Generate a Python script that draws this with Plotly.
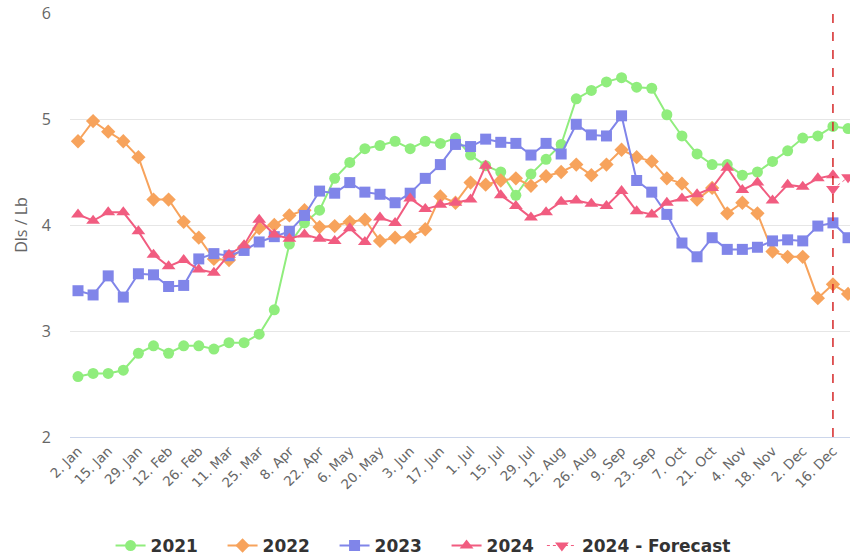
import plotly.graph_objects as go

weeks = list(range(52))
tick_pos = list(range(0, 52, 2))
tick_text = ["2. Jan", "15. Jan", "29. Jan", "12. Feb", "26. Feb", "11. Mar", "25. Mar",
             "8. Apr", "22. Apr", "6. May", "20. May", "3. Jun", "17. Jun", "1. Jul",
             "15. Jul", "29. Jul", "12. Aug", "26. Aug", "9. Sep", "23. Sep", "7. Oct",
             "21. Oct", "4. Nov", "18. Nov", "2. Dec", "16. Dec"]

y2021 = [2.57, 2.60, 2.60, 2.63, 2.79, 2.86, 2.79, 2.86, 2.86, 2.83, 2.89, 2.89, 2.97, 3.20,
         3.82, 4.02, 4.14, 4.44, 4.59, 4.72, 4.75, 4.79, 4.72, 4.79, 4.77, 4.82, 4.66, 4.56,
         4.50, 4.28, 4.48, 4.62, 4.76, 5.19, 5.27, 5.35, 5.39, 5.30, 5.29, 5.04, 4.84, 4.67,
         4.57, 4.57, 4.47, 4.50, 4.60, 4.70, 4.82, 4.84, 4.93, 4.91]
y2022 = [4.79, 4.98, 4.88, 4.79, 4.64, 4.24, 4.24, 4.03, 3.88, 3.68, 3.67, 3.79, 3.97, 4.00,
         4.09, 4.14, 3.98, 3.99, 4.03, 4.05, 3.85, 3.88, 3.89, 3.96, 4.27, 4.21, 4.40, 4.38,
         4.42, 4.44, 4.37, 4.46, 4.50, 4.57, 4.47, 4.57, 4.71, 4.64, 4.60, 4.44, 4.39, 4.24,
         4.35, 4.11, 4.21, 4.11, 3.75, 3.70, 3.70, 3.31, 3.44, 3.35]
y2023 = [3.38, 3.34, 3.52, 3.32, 3.54, 3.53, 3.42, 3.43, 3.68, 3.73, 3.71, 3.76, 3.84, 3.89,
         3.94, 4.09, 4.32, 4.30, 4.40, 4.31, 4.29, 4.21, 4.30, 4.44, 4.57, 4.76, 4.74, 4.81,
         4.78, 4.77, 4.66, 4.77, 4.67, 4.95, 4.85, 4.84, 5.03, 4.42, 4.31, 4.10, 3.83, 3.70,
         3.88, 3.77, 3.77, 3.79, 3.85, 3.86, 3.85, 3.99, 4.02, 3.88]
y2024 = [4.10, 4.04, 4.12, 4.12, 3.94, 3.72, 3.61, 3.67, 3.58, 3.55, 3.72, 3.81, 4.05, 3.91,
         3.87, 3.91, 3.87, 3.85, 3.97, 3.84, 4.07, 4.02, 4.25, 4.15, 4.19, 4.21, 4.24, 4.56,
         4.28, 4.18, 4.07, 4.12, 4.22, 4.23, 4.20, 4.18, 4.32, 4.13, 4.10, 4.21, 4.25, 4.29,
         4.35, 4.54, 4.33, 4.40, 4.23, 4.38, 4.36, 4.44, 4.47, None]
forecast_weeks = [50, 51]
y2024_forecast = [4.34, 4.45]
forecast_start = 50

fig = go.Figure()
series = [
    ("2021", y2021, "#90ed7d", "circle", 11),
    ("2022", y2022, "#f7a35c", "diamond", 11),
    ("2023", y2023, "#8085e9", "square", 11),
    ("2024", y2024, "#f15c80", "triangle-up", 12),
]
for name, ys, col, sym, sz in series:
    fig.add_trace(go.Scatter(x=weeks, y=ys, name=name, mode="lines+markers",
                             line=dict(color=col, width=2),
                             marker=dict(symbol=sym, size=sz, color=col)))
fig.add_trace(go.Scatter(x=forecast_weeks, y=y2024_forecast, name="2024 - Forecast",
                         mode="lines+markers", legend="legend2",
                         line=dict(color="#f15c80", width=1, dash="dot"),
                         marker=dict(symbol="triangle-down", size=12, color="#f15c80")))

fig.add_shape(type="line", x0=forecast_start, x1=forecast_start, xref="x", y0=0, y1=1,
              yref="paper", line=dict(color="#d62728", width=1.5, dash="dash"))

legend_font = dict(size=17, color="#333333", family="DejaVu Sans", weight="bold")
fig.update_layout(
    width=850, height=559,
    margin=dict(l=70, r=0, t=13, b=122, autoexpand=False),
    paper_bgcolor="white", plot_bgcolor="white",
    font=dict(family="DejaVu Sans", color="#666666"),
    showlegend=True,
    legend=dict(orientation="h", x=0.052, xanchor="left", y=-0.257, yanchor="middle",
                font=legend_font, itemwidth=30, traceorder="normal", entrywidth=67),
    legend2=dict(orientation="h", x=0.605, xanchor="left", y=-0.257, yanchor="middle",
                 font=legend_font, itemwidth=30),
    xaxis=dict(range=[-0.53, 51.13], tickmode="array", tickvals=tick_pos, ticktext=tick_text,
               tickangle=-45, tickfont=dict(size=13.5, color="#666666"), automargin=False,
               showgrid=False, zeroline=False, showline=True, linecolor="#ccd6eb",
               linewidth=1, ticks=""),
    yaxis=dict(range=[2, 6], tickvals=[2, 3, 4, 5, 6], showgrid=True, gridcolor="#e6e6e6",
               zeroline=False, showline=False, automargin=False, ticklabelstandoff=18,
               tickfont=dict(size=16, color="#666666", family="Open Sans"),
               title=dict(text="Dls / Lb", font=dict(size=16, color="#666666", family="Open Sans"),
                          standoff=10)),
)

fig.write_html("out.html", config={"displayModeBar": False},
               post_script="document.body.style.margin='0';")
